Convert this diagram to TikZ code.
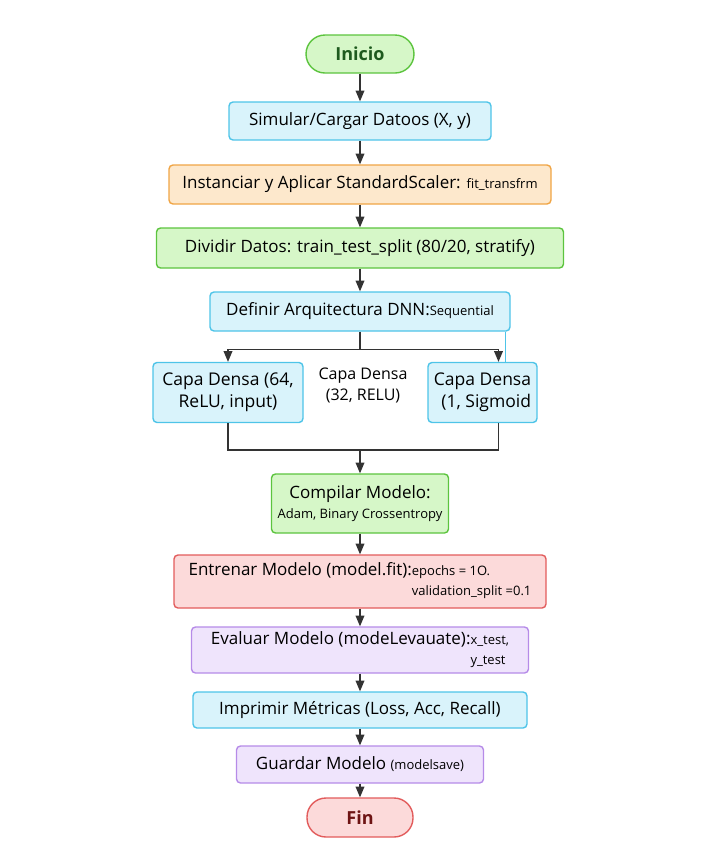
\documentclass[tikz,border=0pt]{standalone}
\usepackage{fontspec}
\setmainfont{Open Sans}
\usepackage{tikz}
\usetikzlibrary{arrows,shapes,positioning,calc}

\definecolor{bluefill}{HTML}{D9F3FB}
\definecolor{blueline}{HTML}{4EC4E8}
\definecolor{orangefill}{HTML}{FDE8CC}
\definecolor{orangeline}{HTML}{F0A545}
\definecolor{greenfill}{HTML}{D6F7C8}
\definecolor{greenline}{HTML}{5CC43E}
\definecolor{greentext}{HTML}{1E5A1E}
\definecolor{redfill}{HTML}{FCDADA}
\definecolor{redline}{HTML}{E25C5C}
\definecolor{redtext}{HTML}{6E1414}
\definecolor{purplefill}{HTML}{EFE4FC}
\definecolor{purpleline}{HTML}{B68BE8}
\definecolor{arrowgray}{HTML}{333333}

\newcommand{\sm}{\fontsize{13}{15}\selectfont}
\newcommand{\md}{\fontsize{17}{20}\selectfont}

\tikzstyle{term} = [rectangle, draw, rounded corners=19pt, line width=1.4pt, minimum height=38pt, font=\fontsize{18}{21}\selectfont\bfseries]
\tikzstyle{block} = [rectangle, draw, rounded corners=4pt, line width=1.4pt, minimum height=38pt, inner sep=3pt, font=\md]
\tikzstyle{bluebox} = [block, fill=bluefill, draw=blueline]
\tikzstyle{orangebox} = [block, fill=orangefill, draw=orangeline]
\tikzstyle{greenbox} = [block, fill=greenfill, draw=greenline]
\tikzstyle{redbox} = [block, fill=redfill, draw=redline]
\tikzstyle{purplebox} = [block, fill=purplefill, draw=purpleline]
\tikzstyle{line} = [draw=arrowgray, line width=1.5pt]

\begin{document}
\begin{tikzpicture}[x=1pt, y=1pt, >=triangle 45]
        \useasboundingbox (0,0) rectangle (718,-855);

        \node[term, fill=greenfill, draw=greenline, text=greentext, minimum width=108pt] (start) at (360,-54) {Inicio};
        \node[bluebox, below of=start, node distance=67pt, minimum width=262pt] (load) {Simular/Cargar Datoos (X, y)};
        \node[orangebox, below of=load, node distance=63.5pt, minimum width=382pt, minimum height=39pt] (scale) {Instanciar y Aplicar StandardScaler: {\sm fit\_transfrm}};
        \node[greenbox, below of=scale, node distance=63.5pt, minimum width=407pt, minimum height=40pt] (split) {Dividir Datos: train\_test\_split (80/20, stratify)};
        \node[bluebox, below of=split, node distance=63.5pt, minimum width=300pt, minimum height=39pt] (arch) {Definir Arquitectura DNN:{\sm Sequential}};

        \node[below of=arch, node distance=73.5pt, xshift=3pt, align=center, font=\fontsize{16}{21}\selectfont] (dense2) {Capa Densa\\(32, RELU)};
        \node[bluebox, left of=dense2, node distance=135pt, yshift=-7.5pt, minimum width=150pt, minimum height=60pt, align=center, font=\fontsize{17.5}{22}\selectfont] (dense1) {Capa Densa (64,\\ReLU, input)};
        \node[bluebox, right of=dense2, node distance=119.5pt, yshift=-7.5pt, minimum width=109pt, minimum height=60pt, align=right, inner sep=2pt, font=\fontsize{17.5}{22}\selectfont] (dense3) {Capa Densa\\(1, Sigmoid};

        \node[greenbox, below of=arch, node distance=192pt, minimum width=177pt, minimum height=59pt, align=center] (compile) {Compilar Modelo:\\{\sm Adam, Binary Crossentropy}};
        \node[redbox, below of=compile, node distance=78pt, minimum width=372pt, minimum height=53pt] (train) {\begin{tabular}{@{}l@{}l@{}}Entrenar Modelo (model.fit):&{\sm epochs = 1O.}\\&{\sm validation\_split =0.1}\end{tabular}};
        \node[purplebox, below of=train, node distance=68.5pt, minimum width=337pt, minimum height=44pt] (eval) {\begin{tabular}{@{}l@{}l@{}}Evaluar Modelo (modeLevauate):&{\sm x\_test,}\\&{\sm y\_test}\end{tabular}};
        \node[bluebox, below of=eval, node distance=60pt, minimum width=334pt, minimum height=36pt] (metrics) {Imprimir Métricas (Loss, Acc, Recall)};
        \node[purplebox, below of=metrics, node distance=54.5pt, minimum width=247pt, minimum height=37pt] (save) {Guardar Modelo {\sm (modelsave)}};
        \node[term, below of=save, node distance=53pt, fill=redfill, draw=redline, text=redtext, minimum width=106pt, minimum height=39pt] (end) {Fin};

        \draw[line, ->] (start) -- (load);
        \draw[line, ->] (load) -- (scale);
        \draw[line, ->] (scale) -- (split);
        \draw[line, ->] (split) -- (arch);

        \draw[line] (arch.south) -- ++(0,-18) coordinate (fork);
        \draw[line, ->] (fork) -| (dense1.north);
        \draw[line, ->] (fork) -| ([xshift=16pt]dense3.north);
        \draw[draw=blueline, line width=1.3pt] ([xshift=-5pt]arch.south east) -- ([xshift=-5pt]arch.south east |- dense3.north);

        \draw[line] (dense1.south) -- ++(0,-27) coordinate (join) -| ([xshift=16pt]dense3.south);
        \draw[line, ->] (join -| compile.north) -- (compile.north);

        \draw[line, ->] (compile) -- (train);
        \draw[line, ->] (train) -- (eval);
        \draw[line, ->] (eval) -- (metrics);
        \draw[line, ->] (metrics) -- (save);
        \draw[line, ->] (save) -- (end);

    \end{tikzpicture}
\end{document}
